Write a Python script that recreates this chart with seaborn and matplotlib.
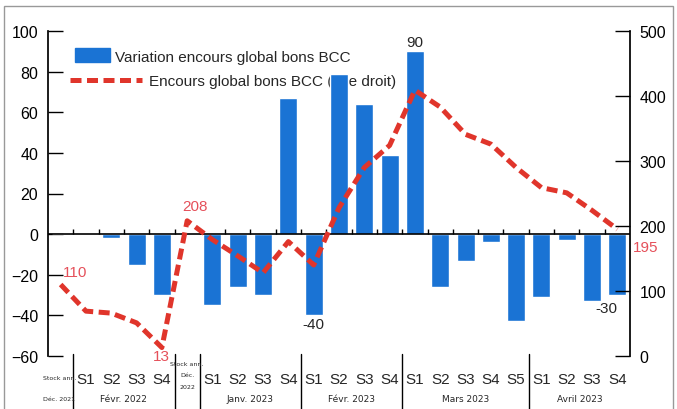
import numpy as np
import pandas as pd
import matplotlib.pyplot as plt
import matplotlib.lines as mlines
import matplotlib.patches as mpatches
import matplotlib.transforms as mtransforms
import seaborn as sns

# data
semaines = ["", "S1", "S2", "S3", "S4", "",
            "S1", "S2", "S3", "S4",
            "S1", "S2", "S3", "S4",
            "S1", "S2", "S3", "S4", "S5",
            "S1", "S2", "S3", "S4"]
variation = [0, 0, -2, -15, -30, 0,
             -35, -26, -30, 67,
             -40, 79, 64, 39,
             90, -26, -13, -4, -43,
             -31, -3, -33, -30]
encours = [110, 69, 66, 51, 13, 208,
           179, 154, 128, 176,
           140, 228, 290, 324,
           409, 383, 341, 326, 290,
           259, 251, 224, 195]
mois = ["Févr. 2022", "Janv. 2023", "Févr. 2023", "Mars 2023", "Avril 2023"]
mois_pos = [2.5, 7.5, 11.5, 16, 20.5]
separations = [0.5, 4.5, 5.5, 9.5, 13.5, 18.5]

df = pd.DataFrame({"pos": np.arange(len(variation)), "variation": variation, "encours": encours})

sns.set_theme(style="white")
plt.rcParams["font.family"] = ["Liberation Sans", "DejaVu Sans"]
etroit = ["Liberation Sans Narrow", "DejaVu Sans", "Liberation Sans"]

bleu = "#1a73d4"
rouge = "#e0352b"
rose = "#e5505a"

fig = plt.figure(figsize=(6.77, 4.10), dpi=100)
ax = fig.add_axes([48 / 677, 1 - 357 / 410, (630 - 48) / 677, (357 - 32) / 410])
ax2 = ax.twinx()

sns.barplot(data=df, x="pos", y="variation", native_scale=True, color=bleu,
            saturation=1, width=0.71, ax=ax, zorder=3)
ax.set_xlim(-0.5, 22.5)
ax.set_ylim(-60, 100)
ax.set_yticks(range(-60, 101, 20))
ax.axhline(0, color="black", lw=1.2, zorder=4)
ax.vlines(np.arange(0.5, 22, 1), 0, 2.5, color="black", lw=1, zorder=4)

sns.lineplot(data=df, x="pos", y="encours", ax=ax2, color=rouge, lw=3.6,
             dashes=False, zorder=5)
ax2.lines[0].set_dashes((2.2, 1.1))
ax2.set_ylim(0, 500)
ax2.set_yticks(range(0, 501, 100))

for a in (ax, ax2):
    a.set_xlabel("")
    a.set_ylabel("")
    for s in a.spines.values():
        s.set_visible(False)
    a.tick_params(axis="y", direction="in", length=11, width=1, labelsize=11.5, pad=7,
                  colors="black")
ax.spines["left"].set_visible(True)
ax.spines["left"].set_color("black")
ax2.spines["right"].set_visible(True)
ax2.spines["right"].set_color("black")
ax.set_xticks([])
ax2.set_xticks([])
ax.set_facecolor("none")

# labels of the bars and the line
ax.text(14, 91, "90", ha="center", va="bottom", fontsize=11)
ax.text(10, -41, "-40", ha="center", va="top", fontsize=11)
ax.text(22, -33, "-30", ha="right", va="top", fontsize=11)
ax2.text(0.1, 118, "110", ha="left", va="bottom", fontsize=11, color=rose)
ax2.text(4, 0, "13", ha="center", va="center", fontsize=11, color=rose)
ax2.text(5.3, 220, "208", ha="center", va="bottom", fontsize=11, color=rose)
ax2.text(22.6, 168, "195", ha="left", va="center", fontsize=11, color=rose)

# two-level x axis
trans = mtransforms.blended_transform_factory(ax.transData, ax.transAxes)
for i, s in enumerate(semaines):
    if s:
        ax.text(i, -0.072, s, transform=trans, ha="center", va="center", fontsize=11)
for m, p in zip(mois, mois_pos):
    ax.text(p, -0.13, m, transform=trans, ha="center", va="center", fontsize=6.5,
            family=etroit)
ax.text(-0.05, -0.066, "Stock ann.", transform=trans, ha="center", va="center",
        fontsize=4.5, family=etroit)
ax.text(-0.05, -0.13, "Déc. 2021", transform=trans, ha="center", va="center",
        fontsize=4.5, family=etroit)
ax.text(5, -0.015, "Stock ann.\nDéc.\n2022", transform=trans, ha="center", va="top",
        fontsize=4.5, linespacing=2.6, family=etroit)
for x in separations:
    ax.add_line(mlines.Line2D([x, x], [0.005, -0.17], transform=trans, color="black",
                              lw=1, clip_on=False))

# legends (two, the handles have different lengths)
h1 = mpatches.Patch(color=bleu)
h2 = mlines.Line2D([], [], color=rouge, lw=3.6, dashes=(2.2, 1.1))
leg1 = ax.legend([h1], ["Variation encours global bons BCC"], loc="center left",
                 bbox_to_anchor=(75 / 677, 1 - 57 / 410), bbox_transform=fig.transFigure,
                 frameon=False, fontsize=11, handlelength=2.3, handleheight=1.0,
                 handletextpad=0.35, borderpad=0, borderaxespad=0)
leg1.set_zorder(1)
ax.add_artist(leg1)
leg2 = ax.legend([h2], ["Encours global bons BCC (axe droit)"], loc="center left",
                 bbox_to_anchor=(70 / 677, 1 - 82 / 410), bbox_transform=fig.transFigure,
                 frameon=False, fontsize=11, handlelength=4.7, handletextpad=0.5,
                 borderpad=0, borderaxespad=0)
leg2.set_zorder(1)

# frame around the picture
fig.patches.append(mpatches.Rectangle((4 / 677, -0.01), 669 / 677, 1 - 7 / 410 + 0.01,
                                      transform=fig.transFigure, fill=False,
                                      edgecolor="#999999", lw=1))

fig.savefig("out.png", dpi=100)
